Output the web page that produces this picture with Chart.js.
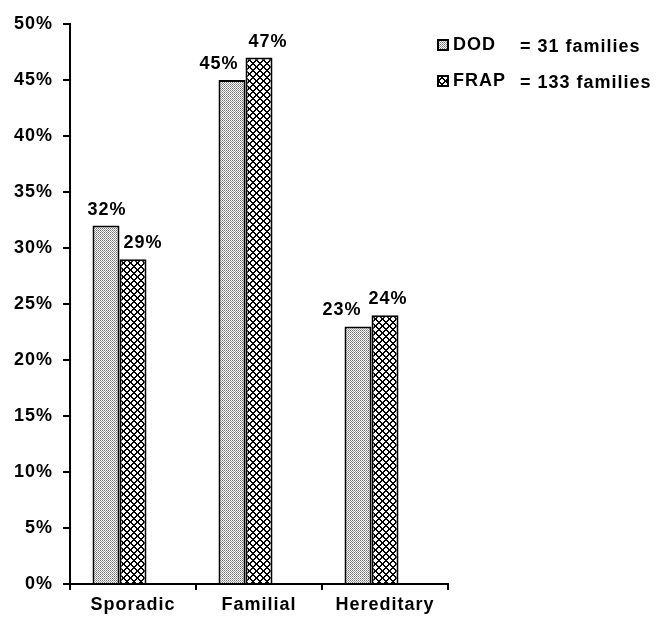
<!DOCTYPE html>
<html>
<head>
<meta charset="utf-8">
<script src="https://cdn.jsdelivr.net/npm/chart.js@4"></script>
<style>
  html, body { margin: 0; padding: 0; background: #fff; }
  #wrap { width: 657px; height: 617px; }
</style>
</head>
<body>
<div id="wrap"><canvas id="chart" width="657" height="617"></canvas></div>
<script>
// categories and values
const categories = ['Sporadic', 'Familial', 'Hereditary'];
const dodValues = [32, 45, 23];
const frapValues = [29, 47, 24];
const spacerValues = [null, null, null]; // empty third slot, bars sit left of centre
const seriesNames = ['DOD', 'FRAP'];
const seriesNotes = ['= 31 families', '= 133 families'];
const yTicks = [0, 5, 10, 15, 20, 25, 30, 35, 40, 45, 50];

const FONT = '"Liberation Sans", Arial, Helvetica, sans-serif';

// fine grey stipple for DOD
function stipple() {
  const c = document.createElement('canvas');
  c.width = 4; c.height = 4;
  const g = c.getContext('2d');
  g.fillStyle = '#fff';
  g.fillRect(0, 0, 4, 4);
  for (let y = 0; y < 4; y++) {
    for (let x = 0; x < 4; x++) {
      if ((x + y) % 2 === 0) {
        g.fillStyle = (x % 2 === 0) ? '#6e6e6e' : '#9a9a9a';
        g.fillRect(x, y, 1, 1);
      }
    }
  }
  return g.createPattern(c, 'repeat');
}

// black diagonal lattice leaving white star shapes for FRAP
function crosses() {
  const n = 7;
  const c = document.createElement('canvas');
  c.width = n; c.height = n;
  const g = c.getContext('2d');
  g.fillStyle = '#fff';
  g.fillRect(0, 0, n, n);
  g.fillStyle = '#000';
  for (let y = 0; y < n; y++) {
    for (let x = 0; x < n; x++) {
      if ((x + y) % n < 2 || (x - y + 2 * n) % n < 2) g.fillRect(x, y, 1, 1);
    }
  }
  return g.createPattern(c, 'repeat');
}

const fills = [stipple(), crosses()];

const valueLabels = {
  id: 'valueLabels',
  afterDatasetsDraw(chart, args, opts) {
    const ctx = chart.ctx;
    ctx.save();
    ctx.letterSpacing = '1px';
    ctx.font = 'bold 18px ' + FONT;
    ctx.fillStyle = '#000';
    ctx.textAlign = 'center';
    ctx.textBaseline = 'alphabetic';
    [0, 1].forEach(i => {
      const ds = chart.data.datasets[i];
      chart.getDatasetMeta(i).data.forEach((bar, j) => {
        ctx.fillText(ds.data[j] + '%', bar.x + opts.nudge[i][j], bar.y - 11);
      });
    });
    ctx.restore();
  }
};

const sideLegend = {
  id: 'sideLegend',
  afterDraw(chart, args, opts) {
    const ctx = chart.ctx;
    ctx.save();
    ctx.letterSpacing = '1px';
    ctx.font = 'bold 18px ' + FONT;
    ctx.textBaseline = 'middle';
    seriesNames.forEach((name, i) => {
      const y = opts.top + i * opts.gap;
      ctx.fillStyle = fills[i];
      ctx.fillRect(opts.left, y - 5, 10, 10);
      ctx.strokeStyle = '#000';
      ctx.lineWidth = 2;
      ctx.strokeRect(opts.left, y - 5, 10, 10);
      ctx.fillStyle = '#000';
      ctx.fillText(name, opts.left + 15, y);
      ctx.fillText(seriesNotes[i], opts.noteX, y + 2);
    });
    ctx.restore();
  }
};

const spacing = {
  id: 'spacing',
  beforeDraw(chart) { chart.ctx.letterSpacing = '1px'; }
};

new Chart(document.getElementById('chart'), {
  type: 'bar',
  data: {
    labels: categories,
    datasets: [
      { label: seriesNames[0], data: dodValues, backgroundColor: fills[0],
        borderColor: '#000', borderWidth: 2 },
      { label: seriesNames[1], data: frapValues, backgroundColor: fills[1],
        borderColor: '#000', borderWidth: 2 },
      { label: '', data: spacerValues, backgroundColor: 'rgba(0,0,0,0)', borderWidth: 0 }
    ]
  },
  options: {
    responsive: false,
    animation: false,
    events: [],
    layout: { padding: { left: 0, right: 209, top: 24, bottom: 0 } },
    datasets: { bar: { categoryPercentage: 0.643, barPercentage: 1 } },
    plugins: {
      legend: { display: false },
      tooltip: { enabled: false },
      valueLabels: { nudge: [[1, -13, -16], [10, 9, 3]] },
      sideLegend: { left: 438, top: 45, gap: 36, noteX: 520 }
    },
    scales: {
      x: {
        afterFit(s) { s.height = 33; },
        border: { color: '#000', width: 2 },
        grid: { offset: true, drawOnChartArea: false, drawTicks: true,
                tickLength: 6, color: '#000', lineWidth: 2 },
        ticks: { color: '#000', padding: 4, font: { family: FONT, size: 18, weight: 'bold' } }
      },
      y: {
        min: 0, max: 50,
        afterFit(s) { s.width = 70; },
        afterBuildTicks(s) { s.ticks = yTicks.map(v => ({ value: v })); },
        border: { color: '#000', width: 2 },
        grid: { drawOnChartArea: false, drawTicks: true, tickLength: 7,
                color: '#000', lineWidth: 2 },
        ticks: { color: '#000', padding: 10,
                 font: { family: FONT, size: 18, weight: 'bold' },
                 callback: v => v + '%' }
      }
    }
  },
  plugins: [spacing, valueLabels, sideLegend]
});
</script>
</body>
</html>
